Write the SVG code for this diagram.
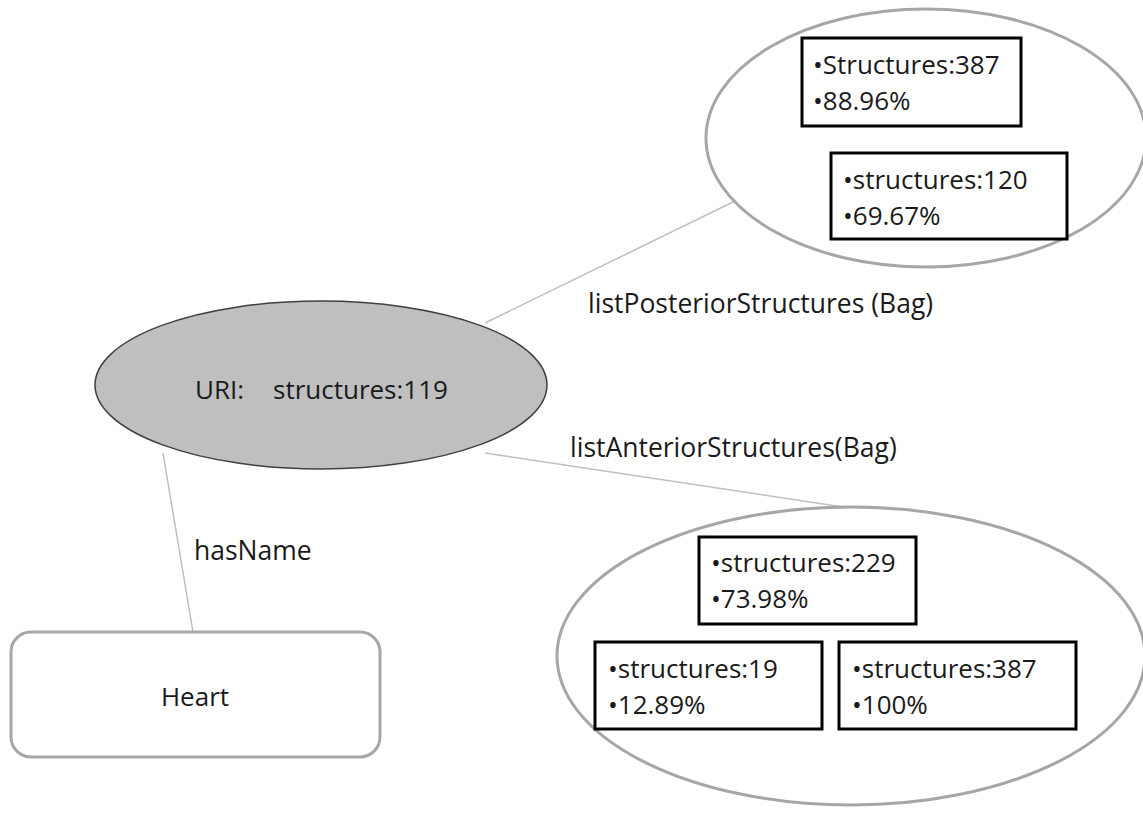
<svg xmlns="http://www.w3.org/2000/svg" width="1143" height="814" viewBox="0 0 1143 814">
  <style>
    text { font-family: "Open Sans", "Noto Sans", "Liberation Sans", sans-serif; font-size: 26px; fill: #1a1a1a; }
    .lbl { font-size: 26.5px; }
    .edge { stroke: #bfbfbf; stroke-width: 1.5; fill: none; }
    .bag { fill: #ffffff; stroke: #a6a6a6; stroke-width: 3; }
    .item { fill: #ffffff; stroke: #000000; stroke-width: 3; }
  </style>
  <rect width="1143" height="814" fill="#ffffff"/>

  <!-- connectors -->
  <g id="connectors">
    <line class="edge" x1="485" y1="323" x2="735" y2="201"/>
    <line class="edge" x1="485" y1="453" x2="850" y2="508"/>
    <line class="edge" x1="163" y1="453" x2="193" y2="632"/>
    <text class="lbl" x="588" y="313">listPosteriorStructures (Bag)</text>
    <text class="lbl" x="570" y="457">listAnteriorStructures(Bag)</text>
    <text class="lbl" x="194" y="560">hasName</text>
  </g>

  <!-- central resource -->
  <g id="node-uri">
    <ellipse cx="321" cy="385" rx="226" ry="84" fill="#bfbfbf" stroke="#404040" stroke-width="1.5"/>
    <text x="195" y="399">URI:</text>
    <text x="273" y="399">structures:119</text>
  </g>

  <!-- posterior bag -->
  <g id="node-posterior">
    <ellipse class="bag" cx="926" cy="138" rx="220" ry="129"/>
    <rect class="item" x="802" y="38" width="219" height="88"/>
    <text x="813" y="74">•Structures:387</text>
    <text x="813" y="110">•88.96%</text>
    <rect class="item" x="831" y="153" width="236" height="86"/>
    <text x="843" y="189">•structures:120</text>
    <text x="843" y="225">•69.67%</text>
  </g>

  <!-- anterior bag -->
  <g id="node-anterior">
    <ellipse class="bag" cx="851" cy="656" rx="294" ry="149"/>
    <rect class="item" x="699" y="537" width="217" height="87"/>
    <text x="711" y="572">•structures:229</text>
    <text x="711" y="608">•73.98%</text>
    <rect class="item" x="595" y="642" width="227" height="87"/>
    <text x="608" y="678">•structures:19</text>
    <text x="608" y="714">•12.89%</text>
    <rect class="item" x="839" y="642" width="237" height="87"/>
    <text x="852" y="678">•structures:387</text>
    <text x="852" y="714">•100%</text>
  </g>

  <!-- name literal -->
  <g id="node-heart">
    <rect x="11" y="632" width="369" height="125" rx="20" ry="20" fill="#ffffff" stroke="#a6a6a6" stroke-width="3"/>
    <text x="195" y="706" text-anchor="middle">Heart</text>
  </g>
</svg>
